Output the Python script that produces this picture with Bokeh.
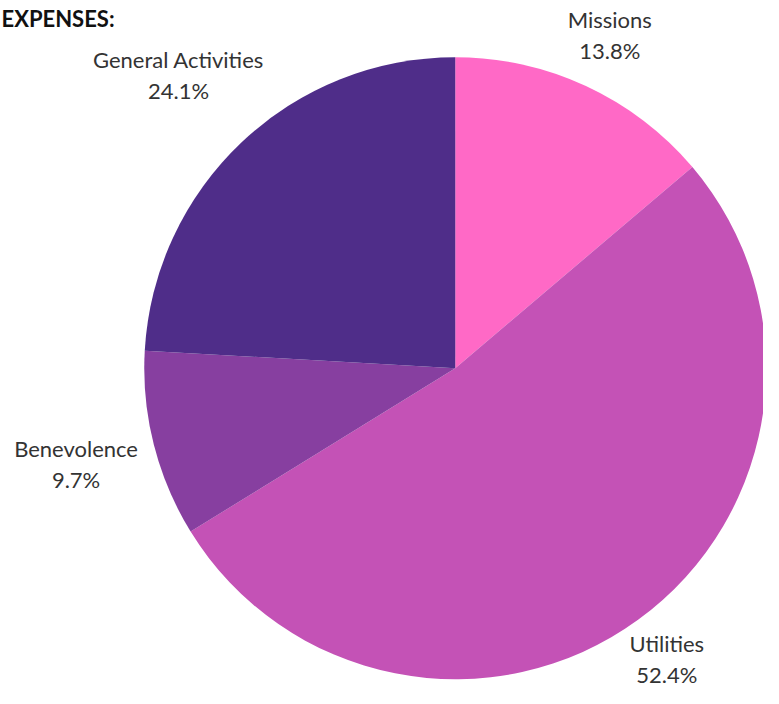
import math
from bokeh.plotting import figure
from bokeh.models import Range1d, ColumnDataSource, Label
from bokeh.embed import file_html
from bokeh.resources import INLINE

# ---- data ----
categories = ["Missions", "Utilities", "Benevolence", "General Activities"]
shares = [13.8, 52.4, 9.7, 24.1]
colors = ["#FF69C6", "#C452B6", "#873FA0", "#4F2D89"]
title_text = "EXPENSES:"

# ---- layout ----
W, H = 763, 688
S = 0.978
cx, cy = 465 * S, H - 376 * S
R = 318 * S
label_dist = {"Missions": 376 * S, "Utilities": 368 * S,
              "Benevolence": 400 * S, "General Activities": 412 * S}
FS = "22px"
LH = 15.5

p = figure(width=W, height=H, output_backend="svg", toolbar_location=None,
           x_axis_location=None, y_axis_location=None, min_border=0,
           x_range=Range1d(0, W), y_range=Range1d(0, H))
p.outline_line_color = None
p.grid.visible = False
p.background_fill_color = "white"
p.border_fill_color = "white"

total = sum(shares)
starts, ends, mids = [], [], []
cum = 0.0
for v in shares:
    a0 = math.pi / 2 - cum / total * 2 * math.pi
    cum += v
    a1 = math.pi / 2 - cum / total * 2 * math.pi
    starts.append(a0)
    ends.append(a1)
    mids.append((a0 + a1) / 2)

src = ColumnDataSource(dict(start=starts, end=ends, color=colors, cat=categories))
p.wedge(x=cx, y=cy, radius=R, start_angle="start", end_angle="end",
        direction="clock", fill_color="color", line_color="white", line_width=0,
        source=src)

for cat, v, m in zip(categories, shares, mids):
    d = label_dist[cat]
    lx = cx + d * math.cos(m)
    ly = cy + d * math.sin(m)
    p.add_layout(Label(x=lx, y=ly + LH, text=cat, text_align="center",
                       text_baseline="middle", text_font="Lato",
                       text_font_size=FS, text_color="#333333"))
    p.add_layout(Label(x=lx, y=ly - LH, text=f"{v:.1f}%", text_align="center",
                       text_baseline="middle", text_font="Lato",
                       text_font_size=FS, text_color="#333333"))

p.add_layout(Label(x=1, y=H - 18, text=title_text, text_align="left",
                   text_baseline="alphabetic", text_font="Lato",
                   text_font_style="bold", text_font_size="22px",
                   text_color="#111111"))

open("out.html", "w").write(file_html(p, INLINE))
